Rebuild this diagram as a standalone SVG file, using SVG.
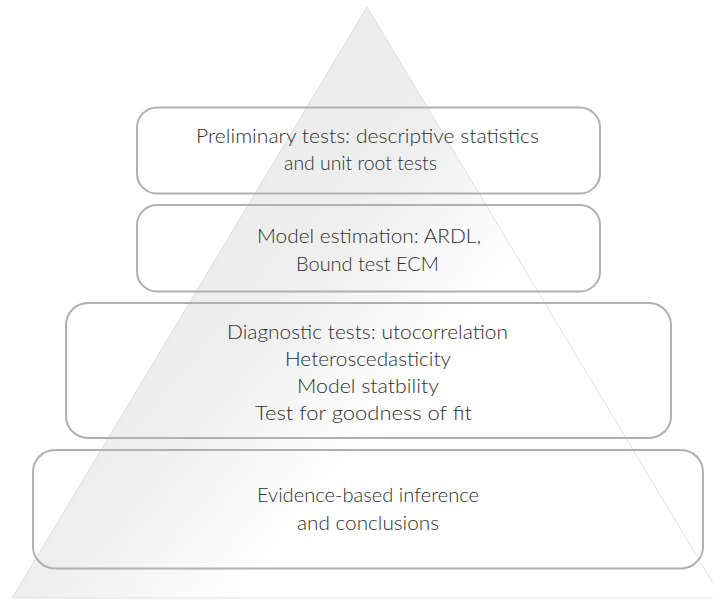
<svg xmlns="http://www.w3.org/2000/svg" width="713" height="599" viewBox="0 0 713 599">
<defs>
<linearGradient id="tri" gradientUnits="userSpaceOnUse" x1="12" y1="7" x2="722" y2="598">
<stop offset="0" stop-color="#e9e9e9"/>
<stop offset="0.42" stop-color="#eeeeee"/>
<stop offset="0.6" stop-color="#ffffff"/>
<stop offset="1" stop-color="#ffffff"/>
</linearGradient>
<style>
.box{fill:none;stroke:#b0b0b4;stroke-width:2}
.t{font-family:Lato,"Open Sans","Liberation Sans",sans-serif;font-weight:300;font-size:20.5px;fill:#2e2e2e;text-anchor:middle}
</style>
</defs>
<rect width="713" height="599" fill="#ffffff"/>
<g id="pyramid">
<polygon points="367,7 12,598 722,598" fill="url(#tri)" stroke="#d4d4d4" stroke-width="0.7"/>
</g>
<g id="connectors"/>
<g id="node1">
<rect class="box" x="137" y="107.5" width="463" height="86" rx="20"/>
<text class="t" x="367.5" y="143" textLength="343" lengthAdjust="spacingAndGlyphs">Preliminary tests: descriptive statistics</text>
<text class="t" x="360.5" y="170" textLength="153" lengthAdjust="spacingAndGlyphs">and unit root tests</text>
</g>
<g id="node2">
<rect class="box" x="137" y="205" width="463" height="86.5" rx="20"/>
<text class="t" x="369" y="243" textLength="224" lengthAdjust="spacingAndGlyphs">Model estimation: ARDL,</text>
<text class="t" x="367.5" y="271" textLength="143" lengthAdjust="spacingAndGlyphs">Bound test ECM</text>
</g>
<g id="node3">
<rect class="box" x="66" y="303" width="605" height="135" rx="22"/>
<text class="t" x="367.5" y="339" textLength="281" lengthAdjust="spacingAndGlyphs">Diagnostic tests: utocorrelation</text>
<text class="t" x="368" y="366" textLength="166" lengthAdjust="spacingAndGlyphs">Heteroscedasticity</text>
<text class="t" x="368" y="393" textLength="142" lengthAdjust="spacingAndGlyphs">Model statbility</text>
<text class="t" x="363.5" y="420" textLength="217" lengthAdjust="spacingAndGlyphs">Test for goodness of fit</text>
</g>
<g id="node4">
<rect class="box" x="33" y="450" width="670" height="118.5" rx="22"/>
<text class="t" x="368" y="502" textLength="222" lengthAdjust="spacingAndGlyphs">Evidence-based inference</text>
<text class="t" x="368" y="530" textLength="142" lengthAdjust="spacingAndGlyphs">and conclusions</text>
</g>
</svg>
